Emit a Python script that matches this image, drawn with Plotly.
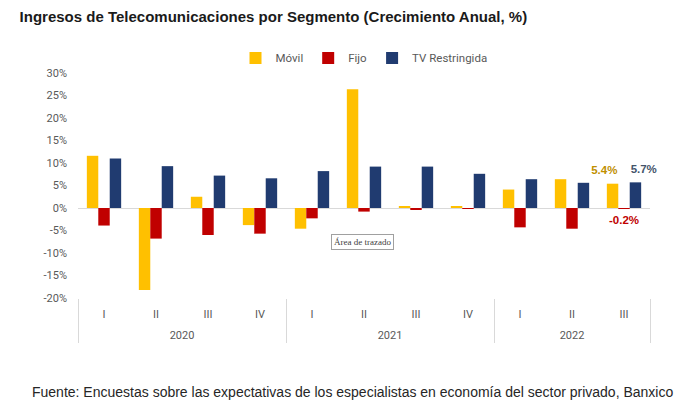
import plotly.graph_objects as go

years = ["2020"] * 4 + ["2021"] * 4 + ["2022"] * 3
quarters = ["I", "II", "III", "IV", "I", "II", "III", "IV", "I", "II", "III"]

movil = [11.6, -18.2, 2.5, -3.8, -4.6, 26.4, 0.3, 0.3, 4.1, 6.4, 5.4]
fijo = [-3.9, -6.8, -6.0, -5.7, -2.3, -0.8, -0.3, -0.1, -4.3, -4.6, -0.2]
tv = [11.0, 9.3, 7.2, 6.6, 8.2, 9.2, 9.2, 7.6, 6.4, 5.6, 5.7]

series_names = ["Móvil", "Fijo", "TV Restringida"]
series_colors = ["#FFC000", "#C00000", "#203B70"]
label_colors = ["#BF9000", "#C00000", "#44546A"]
label_positions = ["top left", "bottom center", "top right"]

tick_vals_y = [-20, -15, -10, -5, 0, 5, 10, 15, 20, 25, 30]
tick_text_y = [f"{v}%" for v in tick_vals_y]

axis_font = "Liberation Sans Narrow, Roboto, Arial, sans-serif"
quarter_text = [q + "<br> " for q in quarters]

fig = go.Figure()
for name, vals, col in zip(series_names, [movil, fijo, tv], series_colors):
    fig.add_trace(go.Bar(
        name=name,
        x=[years, quarter_text],
        y=vals,
        marker=dict(color=col, line=dict(width=0)),
        hoverinfo="skip",
    ))

# data labels for the latest quarter
last_vals = [s[-1] for s in (movil, fijo, tv)]
fig.add_trace(go.Scatter(
    x=[[years[-1]] * 3, [quarter_text[-1]] * 3],
    y=last_vals,
    mode="markers+text",
    marker=dict(size=9, color="rgba(0,0,0,0)"),
    text=[f"{v:.1f}%" for v in last_vals],
    textposition=label_positions,
    textfont=dict(color=label_colors, size=11.5, family="Liberation Sans, Arial, sans-serif", weight="bold"),
    showlegend=False, hoverinfo="skip", cliponaxis=False,
))

fig.update_layout(
    width=700, height=405,
    margin=dict(l=78, r=50, t=73, b=107, autoexpand=False),
    paper_bgcolor="white", plot_bgcolor="white",
    barmode="group", bargap=0.34, bargroupgap=0,
    title=dict(
        text="<b>Ingresos de Telecomunicaciones por Segmento (Crecimiento Anual, %)</b>",
        x=0.028, xref="container", xanchor="left",
        y=0.958, yref="container", yanchor="middle",
        font=dict(family="Liberation Sans, Arial, sans-serif", size=15, color="#1a1a1a"),
    ),
    legend=dict(
        orientation="h", x=0.52, xanchor="center", xref="container",
        y=0.857, yref="container", yanchor="middle",
        font=dict(family=axis_font, size=11.5, color="#595959"),
        itemwidth=30, traceorder="normal",
        bgcolor="rgba(0,0,0,0)",
    ),
    font=dict(family=axis_font, color="#595959"),
    showlegend=True,
)

fig.update_yaxes(
    range=[-20, 30], tickvals=tick_vals_y, ticktext=tick_text_y,
    showgrid=False, zeroline=True, zerolinecolor="#D9D9D9", zerolinewidth=1,
    showline=False, ticks="", ticklabelstandoff=10,
    tickfont=dict(family=axis_font, size=11, color="#595959"),
)
fig.update_xaxes(
    type="multicategory", showgrid=False, showline=False,
    range=[-0.5, len(quarters) - 0.5],
    ticks="", ticklabelstandoff=8,
    showdividers=True, dividercolor="#D9D9D9", dividerwidth=1,
    tickfont=dict(family=axis_font, size=11, color="#595959"),
)

fig.add_annotation(
    text="Área de trazado", x=362, y=405 - 250, xref="paper", yref="paper",
    showarrow=False, font=dict(family="Liberation Serif, DejaVu Serif, serif", size=9, color="#404040"),
    bgcolor="white", bordercolor="#A0A0A0", borderwidth=1, borderpad=2,
)

fig.add_annotation(
    text="Fuente: Encuestas sobre las expectativas de los especialistas en economía del sector privado, Banxico",
    x=352, y=405 - 392, xref="paper", yref="paper", xanchor="center", yanchor="middle",
    showarrow=False, font=dict(family="Liberation Sans, Arial, sans-serif", size=14, color="#262626"),
)

# convert pixel-based annotation positions to paper coordinates
pw, ph = 700 - 78 - 50, 405 - 73 - 107
for ann in fig.layout.annotations:
    ann.x = (ann.x - 78) / pw
    ann.y = (ann.y - 107) / ph

fig.write_html("out.html")
